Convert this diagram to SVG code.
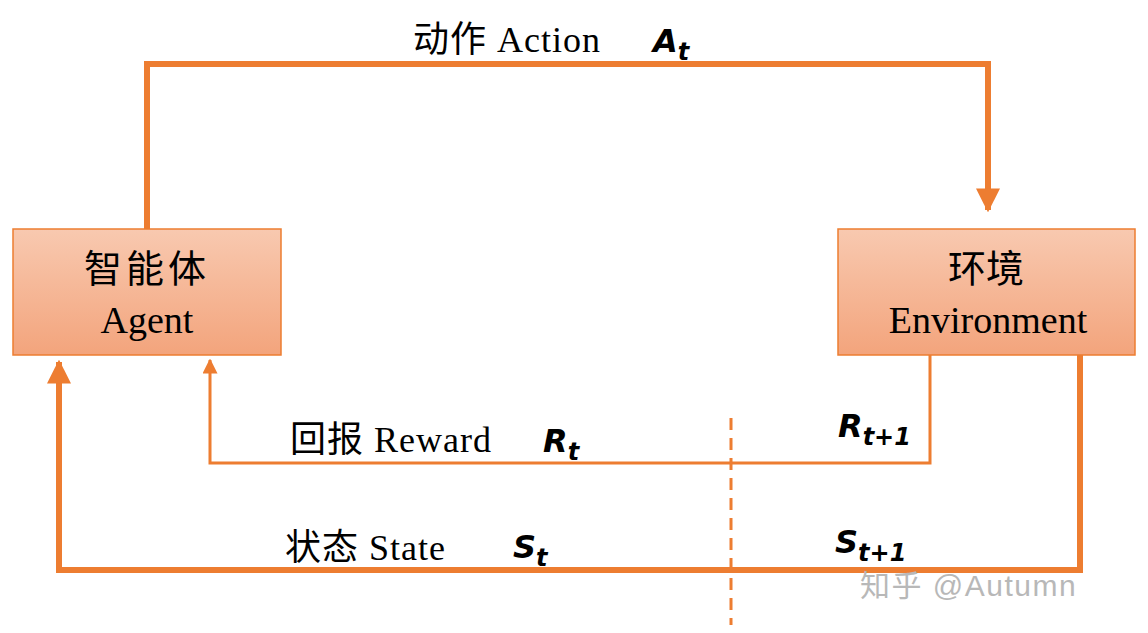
<svg xmlns="http://www.w3.org/2000/svg" width="1148" height="633" viewBox="0 0 1148 633">
<defs>
<linearGradient id="g" x1="0" y1="0" x2="0" y2="1"><stop offset="0" stop-color="#f8c9b0"/><stop offset="1" stop-color="#f3a47c"/></linearGradient>
<marker id="ah" viewBox="0 0 10 10" refX="9" refY="5" markerWidth="4" markerHeight="4" orient="auto" markerUnits="strokeWidth"><path d="M0,0L10,5L0,10z" fill="#ed7d31"/></marker>
<marker id="ah2" viewBox="0 0 10 10" refX="9" refY="5" markerWidth="5" markerHeight="5" orient="auto" markerUnits="strokeWidth"><path d="M0,0L10,5L0,10z" fill="#ed7d31"/></marker>
<style>
.box{fill:url(#g);stroke:#ed7d31;stroke-width:1.5}
.t{font-family:"Liberation Serif","Noto Sans CJK SC",serif;font-size:38px;fill:#000}
.l{font-family:"Liberation Serif","Noto Sans CJK SC",serif;font-size:36px;fill:#000;letter-spacing:1px}
.m{font-family:"DejaVu Sans",sans-serif;font-weight:bold;font-style:italic;fill:#000}
.c{fill:none;stroke:#ed7d31}
</style>
</defs>
<g id="connectors">
<path class="c" stroke-width="6" d="M147,229V64H988V210" marker-end="url(#ah)"/>
<path class="c" stroke-width="3" d="M930,355V463H210V360" marker-end="url(#ah2)"/>
<path class="c" stroke-width="6" d="M1080,355V570H59V362" marker-end="url(#ah)"/>
<path class="c" stroke-width="3" stroke-dasharray="12,8" d="M731,418V625"/>
</g>
<g id="agent"><rect class="box" x="13" y="229" width="268" height="126"/>
<text class="t" x="147" y="282" text-anchor="middle" letter-spacing="4">智能体</text><text class="t" x="147" y="333" text-anchor="middle">Agent</text></g>
<g id="environment"><rect class="box" x="838" y="229" width="297" height="126"/>
<text class="t" x="986" y="282" text-anchor="middle">环境</text><text class="t" x="988" y="333" text-anchor="middle">Environment</text></g>
<g id="labels">
<text class="l" x="413" y="52">动作 Action</text><text class="m" x="653" y="52" font-size="32">A<tspan font-size="24" dy="8">t</tspan></text>
<text class="l" x="290" y="452">回报 Reward</text><text class="m" x="543" y="452" font-size="32">R<tspan font-size="24" dy="8">t</tspan></text>
<text class="m" x="838" y="437" font-size="32">R<tspan font-size="24" dy="8">t+1</tspan></text>
<text class="l" x="285" y="560">状态 State</text><text class="m" x="513" y="558" font-size="32">S<tspan font-size="24" dy="8">t</tspan></text>
<text class="m" x="835" y="553" font-size="32">S<tspan font-size="24" dy="8">t+1</tspan></text>
<text x="860" y="596" font-family="'Liberation Sans','Noto Sans CJK SC',sans-serif" font-size="30" letter-spacing="1.5" fill="#b8b8b8">知乎 @Autumn</text>
</g>
</svg>
